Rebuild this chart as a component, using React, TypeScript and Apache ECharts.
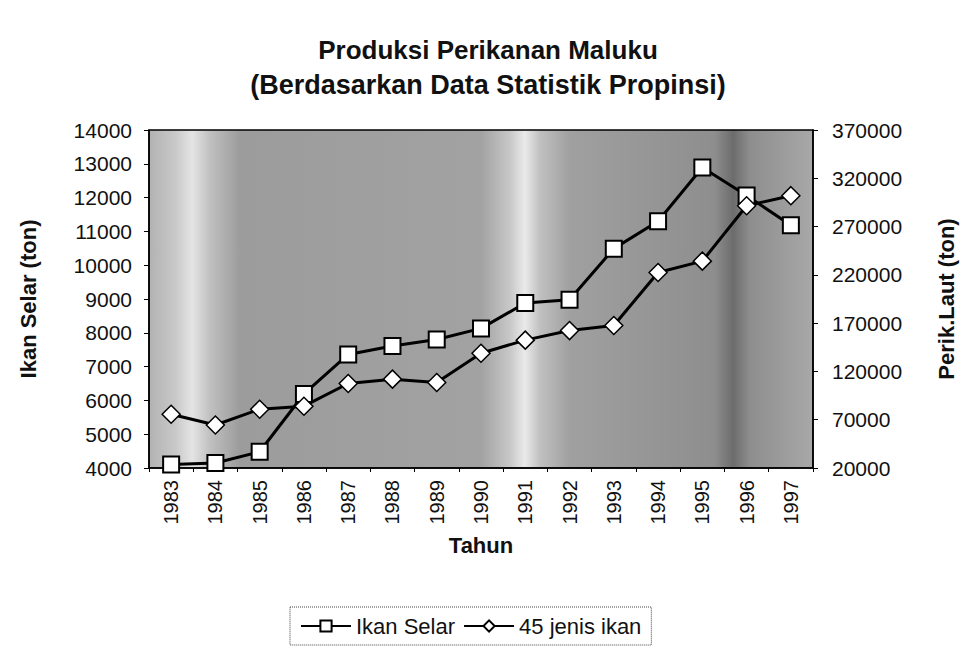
import React, { useEffect, useRef } from "react";
import * as echarts from "echarts";

const years = ["1983", "1984", "1985", "1986", "1987", "1988", "1989", "1990", "1991", "1992", "1993", "1994", "1995", "1996", "1997"];
const ikanSelar = [4100, 4150, 4480, 6190, 7360, 7610, 7800, 8130, 8880, 8980, 10490, 11300, 12890, 12060, 11180];
const jenisIkan = [75600, 64500, 80900, 84000, 107500, 112000, 108600, 138800, 152400, 162300, 167500, 222500, 234200, 291600, 302000];
const rightTicks = [20000, 70000, 120000, 170000, 220000, 270000, 320000, 370000];

const FONT = "'Liberation Sans', Arial, sans-serif";

export default function App() {
  const ref = useRef<HTMLDivElement>(null);
  useEffect(() => {
    if (!ref.current) return;
    const chart = echarts.init(ref.current, null, { renderer: "svg" });
    const bg = new echarts.graphic.LinearGradient(0, 0, 1, 0, [
      { offset: 0, color: "#b2b2b2" },
      { offset: 0.039, color: "#c8c8c8" },
      { offset: 0.065, color: "#e4e4e4" },
      { offset: 0.092, color: "#c0c0c0" },
      { offset: 0.137, color: "#9c9c9c" },
      { offset: 0.5, color: "#a2a2a2" },
      { offset: 0.544, color: "#c8c8c8" },
      { offset: 0.566, color: "#eaeaea" },
      { offset: 0.589, color: "#c0c0c0" },
      { offset: 0.634, color: "#a0a0a0" },
      { offset: 0.852, color: "#8e8e8e" },
      { offset: 0.88, color: "#6c6c6c" },
      { offset: 0.905, color: "#8e8e8e" },
      { offset: 1, color: "#a8a8a8" },
    ]);
    const fmt = (v: number) => String(v);
    chart.setOption({
      animation: false,
      textStyle: { fontFamily: FONT },
      title: [
        {
          text: "Produksi Perikanan Maluku",
          left: 483,
          top: 32,
          textAlign: "center",
          textStyle: { fontSize: 26, fontWeight: "bold", color: "#111", fontFamily: FONT },
        },
        {
          text: "(Berdasarkan Data Statistik Propinsi)",
          left: 483,
          top: 66,
          textAlign: "center",
          textStyle: { fontSize: 27, fontWeight: "bold", color: "#111", fontFamily: FONT },
        },
      ],
      grid: {
        left: 149,
        right: 158,
        top: 130,
        bottom: 195,
        show: true,
        backgroundColor: bg,
        borderColor: "#000",
        borderWidth: 1.5,
      },
      legend: {
        left: 290,
        top: 607,
        orient: "horizontal",
        itemWidth: 50,
        itemHeight: 14,
        itemGap: 8,
        padding: [8, 10, 8, 10],
        borderColor: "#444",
        borderWidth: 1,
        borderType: "dotted",
        textStyle: { fontSize: 22, color: "#111", fontFamily: FONT },
        data: ["Ikan Selar", "45 jenis ikan"],
      },
      xAxis: {
        type: "category",
        data: years,
        boundaryGap: true,
        name: "Tahun",
        nameLocation: "middle",
        nameGap: 66,
        nameMoveOverlap: false,
        nameTextStyle: { fontSize: 22, fontWeight: "bold", color: "#111", fontFamily: FONT },
        axisLine: { lineStyle: { color: "#000", width: 1.5 } },
        axisTick: { show: true, length: 4, lineStyle: { color: "#000" } },
        axisLabel: { rotate: 90, fontSize: 20, color: "#111", margin: 12, fontFamily: FONT },
      },
      yAxis: [
        {
          type: "value",
          min: 4000,
          max: 14000,
          interval: 1000,
          name: "Ikan Selar (ton)",
          nameLocation: "middle",
          nameGap: 110,
          nameMoveOverlap: false,
          nameTextStyle: { fontSize: 22, fontWeight: "bold", color: "#111", fontFamily: FONT },
          axisLine: { show: true, lineStyle: { color: "#000", width: 1.5 } },
          axisTick: { show: true, length: 5, lineStyle: { color: "#000" } },
          axisLabel: { fontSize: 21, color: "#111", margin: 17, fontFamily: FONT, formatter: fmt },
          splitLine: { show: false },
        },
        {
          type: "value",
          min: 20000,
          max: 370000,
          position: "right",
          name: "Perik.Laut (ton)",
          nameLocation: "middle",
          nameGap: 122,
          nameRotate: 90,
          nameMoveOverlap: false,
          nameTextStyle: { fontSize: 22, fontWeight: "bold", color: "#111", fontFamily: FONT },
          axisLine: { show: true, lineStyle: { color: "#000", width: 1.5 } },
          axisTick: { show: true, length: 5, lineStyle: { color: "#000" }, customValues: rightTicks },
          axisLabel: { fontSize: 21, color: "#111", margin: 19, fontFamily: FONT, customValues: rightTicks, formatter: fmt },
          splitLine: { show: false },
        },
      ],
      series: [
        {
          name: "Ikan Selar",
          type: "line",
          yAxisIndex: 0,
          data: ikanSelar,
          symbol: "rect",
          symbolSize: 16,
          clip: false,
          lineStyle: { color: "#000", width: 3 },
          itemStyle: { color: "#fff", borderColor: "#000", borderWidth: 2 },
        },
        {
          name: "45 jenis ikan",
          type: "line",
          yAxisIndex: 1,
          data: jenisIkan,
          symbol: "diamond",
          symbolSize: [18, 18],
          clip: false,
          lineStyle: { color: "#000", width: 3 },
          itemStyle: { color: "#fff", borderColor: "#000", borderWidth: 1.5 },
        },
      ],
    });
    return () => chart.dispose();
  }, []);
  return (
    <div
      ref={ref}
      style={{ position: "fixed", left: 0, top: 0, width: 971, height: 663, background: "#fff" }}
    />
  );
}
